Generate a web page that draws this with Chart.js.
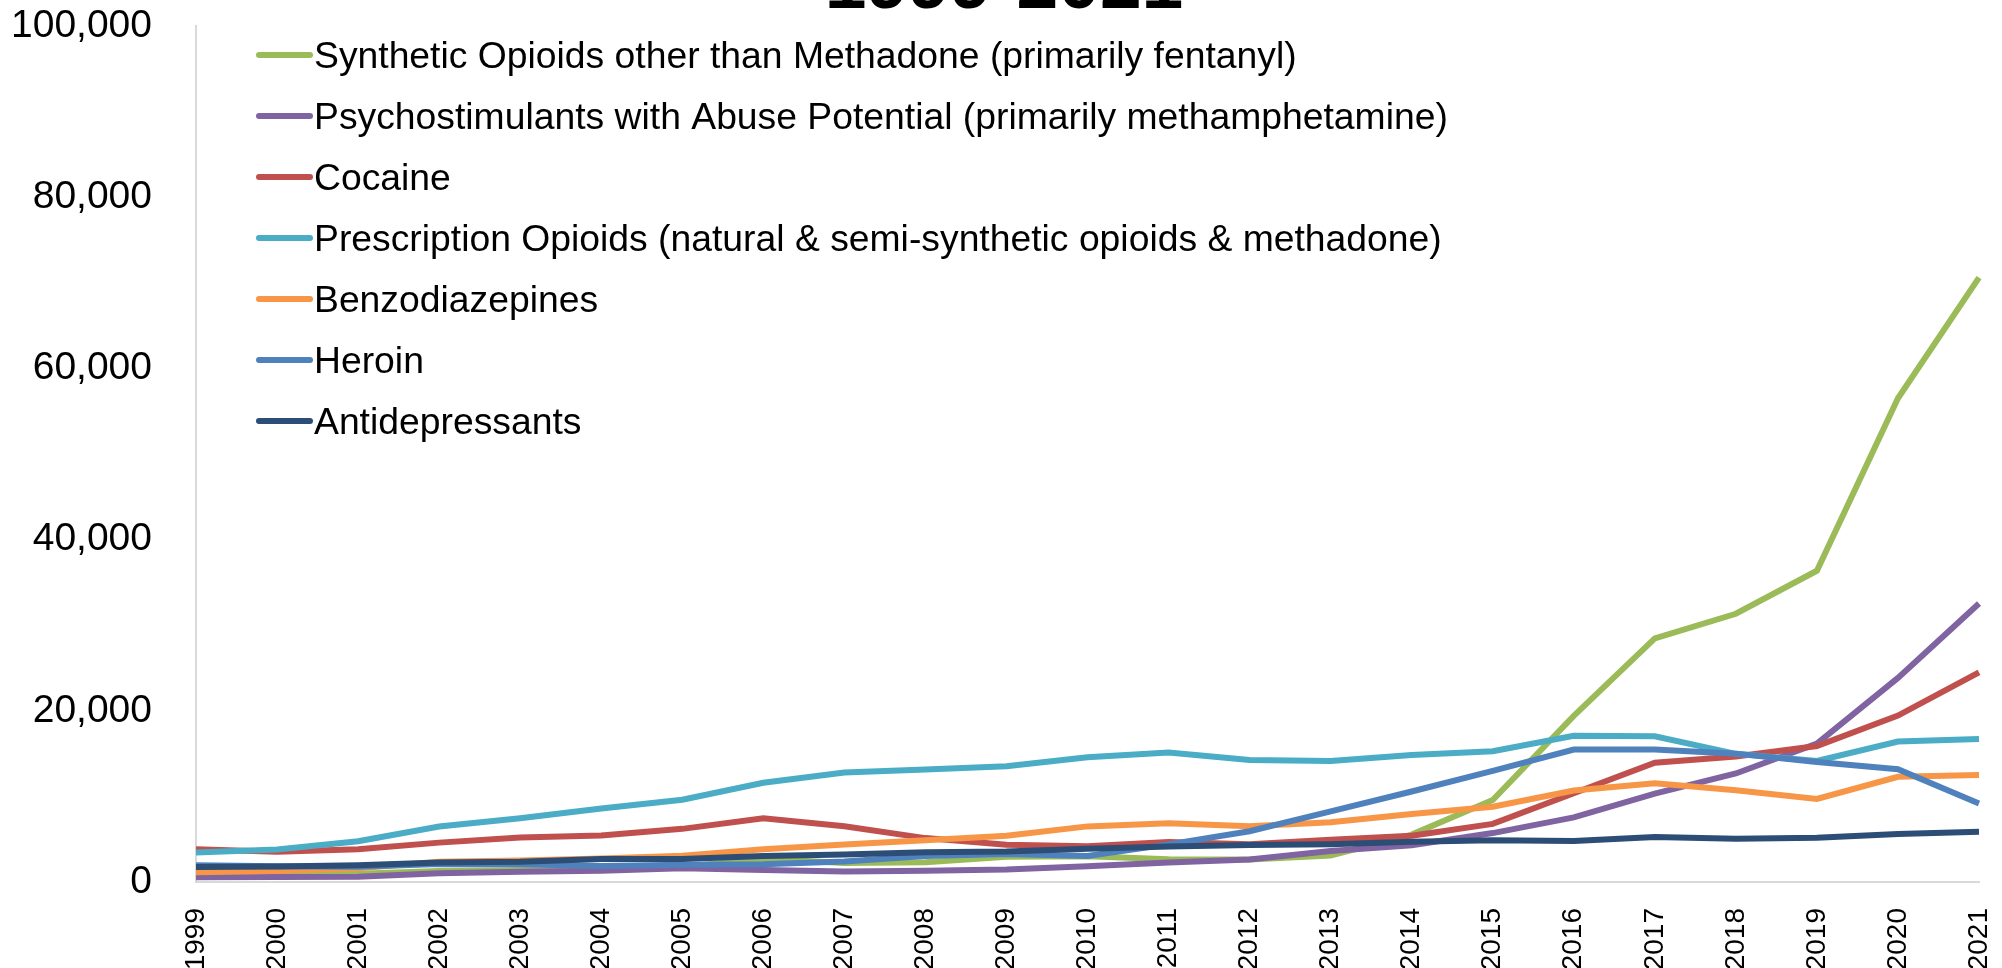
<!DOCTYPE html>
<html lang="en">
<head>
  <meta charset="UTF-8">
  <script src="https://cdn.jsdelivr.net/npm/chart.js"></script>
  <title>Overdose deaths 1999-2021</title>
  <style>
    html, body { margin: 0; padding: 0; background: #fff; }
    #box { width: 2002px; height: 968px; }
  </style>
</head>
<body>
  <div id="box">
    <canvas id="grafico"></canvas>
  </div>
<script>
  var years = ['1999', '2000', '2001', '2002', '2003', '2004', '2005', '2006', '2007', '2008', '2009', '2010',
    '2011', '2012', '2013', '2014', '2015', '2016', '2017', '2018', '2019', '2020', '2021']

  var synthetic = [730, 782, 957, 1295, 1400, 1664, 1742, 2707, 2213, 2306, 2946, 3007,
    2666, 2628, 3105, 5544, 9580, 19413, 28466, 31335, 36359, 56516, 70601]
  var psychostimulants = [547, 578, 627, 1021, 1192, 1300, 1608, 1389, 1226, 1302, 1465, 1854,
    2266, 2635, 3627, 4298, 5716, 7542, 10333, 12676, 16167, 23837, 32537]
  var cocaine = [3822, 3544, 3833, 4599, 5199, 5443, 6208, 7448, 6512, 5129, 4350, 4183,
    4681, 4404, 4944, 5415, 6784, 10375, 13942, 14666, 15883, 19447, 24486]
  var prescription = [3442, 3785, 4770, 6483, 7456, 8577, 9612, 11589, 12796, 13149, 13523, 14583,
    15140, 14240, 14145, 14838, 15281, 17087, 17029, 14975, 14139, 16416, 16706]
  var benzodiazepines = [1135, 1298, 1594, 2358, 2499, 2733, 3054, 3835, 4378, 4864, 5400, 6497,
    6872, 6524, 6973, 7945, 8791, 10684, 11537, 10724, 9711, 12290, 12499]
  var heroin = [1960, 1842, 1779, 2089, 2080, 1878, 2009, 2088, 2399, 3041, 3278, 3036,
    4397, 5925, 8257, 10574, 12989, 15469, 15482, 14996, 14019, 13165, 9173]
  var antidepressants = [1749, 1804, 1965, 2286, 2365, 2681, 2687, 3024, 3224, 3475, 3565, 3889,
    4146, 4316, 4410, 4702, 4870, 4799, 5269, 5064, 5170, 5597, 5863]

  var seriesNames = [
    'Synthetic Opioids other than Methadone (primarily fentanyl)',
    'Psychostimulants with Abuse Potential (primarily methamphetamine)',
    'Cocaine',
    'Prescription Opioids (natural & semi-synthetic opioids & methadone)',
    'Benzodiazepines',
    'Heroin',
    'Antidepressants'
  ]
  var seriesData = [synthetic, psychostimulants, cocaine, prescription, benzodiazepines, heroin, antidepressants]
  var seriesColors = ['#9BBB59', '#8064A2', '#C0504D', '#4BACC6', '#F79646', '#4F81BD', '#2C4D75']

  var titleText = '1999-2021'
  var fonte = '"Liberation Sans", Arial, sans-serif'

  // titulo cortado no topo + legenda dentro do grafico
  var overlay = {
    id: 'overlay',
    afterDraw(chart) {
      var ctx = chart.ctx
      ctx.save()
      ctx.fillStyle = '#000'
      ctx.font = 'bold 75px ' + fonte
      ctx.textAlign = 'center'
      ctx.textBaseline = 'alphabetic'
      ctx.fillText(titleText, chart.width / 2 + 3, 8)

      ctx.font = '37.3px ' + fonte
      ctx.textAlign = 'left'
      chart.data.datasets.forEach((ds, i) => {
        var y = 55 + i * 61
        ctx.strokeStyle = ds.borderColor
        ctx.lineWidth = 6
        ctx.lineCap = 'round'
        ctx.beginPath()
        ctx.moveTo(259, y)
        ctx.lineTo(310, y)
        ctx.stroke()
        ctx.fillStyle = '#000'
        ctx.fillText(ds.label, 314, y + 13)
      })
      ctx.restore()
    }
  }

  var datasets = seriesNames.map((nome, i) => ({
    label: nome,
    data: seriesData[i],
    borderColor: seriesColors[i],
    backgroundColor: seriesColors[i],
    borderWidth: 6,
    pointRadius: 0,
    tension: 0,
    fill: false,
    order: seriesNames.length - i
  }))

  var config = {
    type: 'line',
    data: { labels: years, datasets: datasets },
    options: {
      responsive: true,
      maintainAspectRatio: false,
      animation: false,
      layout: { padding: { top: 26, right: 23, bottom: 0, left: 0 } },
      plugins: {
        legend: { display: false },
        tooltip: { enabled: false },
        title: { display: false }
      },
      scales: {
        x: {
          grid: { display: false },
          border: { display: true, color: '#D9D9D9', width: 2 },
          ticks: {
            color: '#000',
            font: { family: fonte, size: 28 },
            minRotation: 90,
            maxRotation: 90,
            padding: 18,
            autoSkip: false
          },
          afterFit: (s) => {
            s.height = 86
            s.paddingLeft = 0
            s.paddingRight = 0
          }
        },
        y: {
          min: 0,
          max: 100000,
          grid: { display: false },
          border: { display: true, color: '#D9D9D9', width: 2 },
          ticks: {
            stepSize: 20000,
            color: '#000',
            font: { family: fonte, size: 39 },
            padding: 36,
            callback: (v) => v.toLocaleString('en-US')
          },
          afterFit: (s) => {
            s.width = 196
            s.paddingTop = 0
            s.paddingBottom = 0
          }
        }
      }
    },
    plugins: [overlay]
  }

  new Chart(document.getElementById('grafico'), config)
</script>
</body>
</html>
